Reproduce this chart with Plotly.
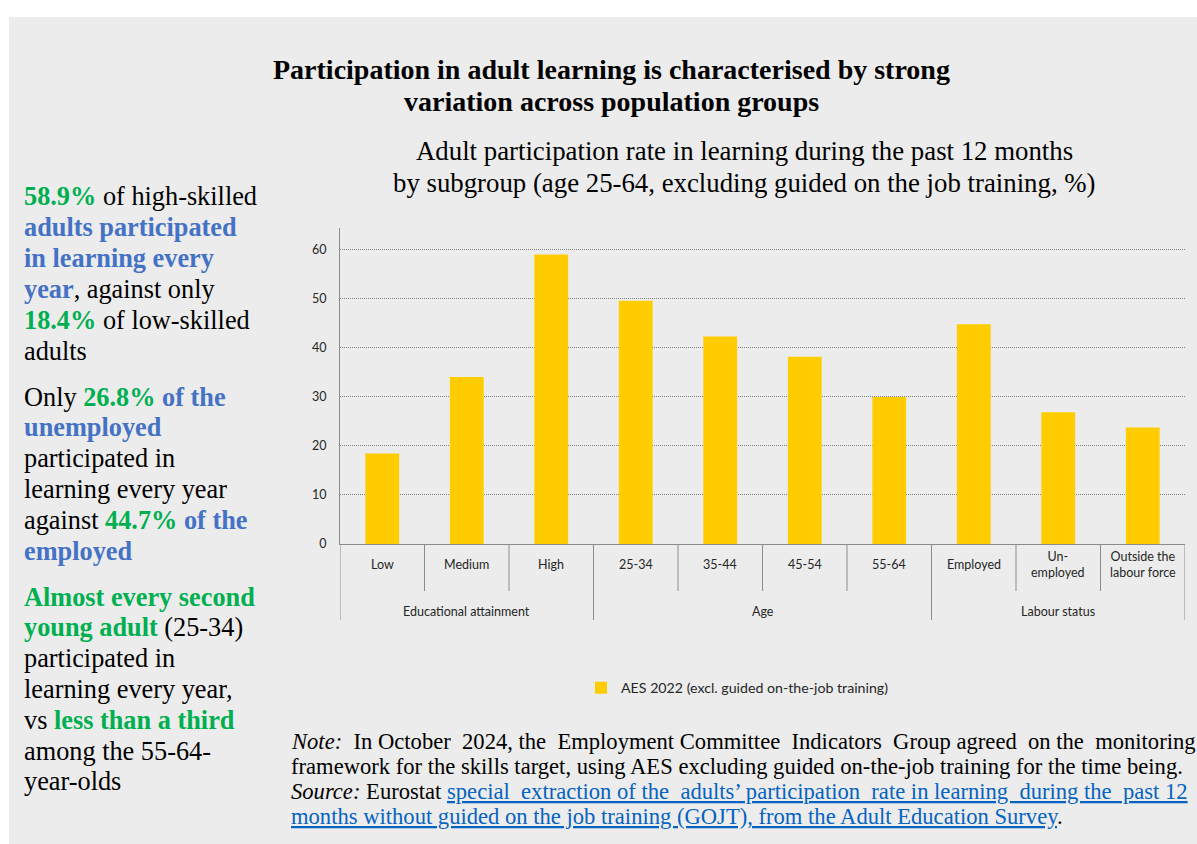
import plotly.graph_objects as go

# data
group_names = ["Educational attainment", "Age", "Labour status"]
group_sizes = [3, 4, 3]
categories = ["Low", "Medium", "High", "25-34", "35-44", "45-54", "55-64",
              "Employed", "Un-<br>employed", "Outside the<br>labour force"]
values = [18.4, 34.0, 58.9, 49.5, 42.2, 38.1, 29.9, 44.7, 26.8, 23.7]
series_name = "AES 2022 (excl. guided on-the-job training)"
y_ticks = [0, 10, 20, 30, 40, 50, 60]

title_lines = ["Participation in adult learning is characterised by strong",
               "variation across population groups"]
subtitle_lines = ["Adult participation rate in learning during the past 12 months",
                  "by subgroup (age 25-64, excluding guided on the job training, %)"]

GREEN = "#00B050"
BLUE = "#4472C4"
LINK = "#0563C1"
GRID = "#8c8c8c"
SERIF = "Liberation Serif, Times New Roman, serif"
SANS = "Lato, Calibri, sans-serif"
S = "\u00a0 "  # wider gap to fake the justified note text


def g(t):
    return f"<b><span style='color:{GREEN}'>{t}</span></b>"


def b(t):
    return f"<b><span style='color:{BLUE}'>{t}</span></b>"


def link(t):
    return f"<span style='color:{LINK};text-decoration:underline'>{t}</span>"


paragraphs = [
    [g("58.9%") + " of high-skilled", b("adults participated"), b("in learning every"),
     b("year") + ", against only", g("18.4%") + " of low-skilled", "adults"],
    ["Only " + g("26.8%") + " " + b("of the"), b("unemployed"), "participated in",
     "learning every year", "against " + g("44.7%") + " " + b("of the"), b("employed")],
    [g("Almost every second"), g("young adult") + " (25-34)", "participated in",
     "learning every year,", "vs " + g("less than a third"), "among the 55-64-", "year-olds"],
]

note_lines = [
    f"<i>Note:</i>{S}In October{S}2024, the{S}Employment Committee{S}Indicators{S}Group agreed{S}on the{S}monitoring",
    "framework for the skills target, using AES excluding guided on-the-job training for the time being.",
    "<i>Source:</i> Eurostat " + link(f"special{S}extraction of the{S}adults’ participation{S}rate in learning{S}during the{S}past 12"),
    link("months without guided on the job training (GOJT), from the Adult Education Survey") + ".",
]

# page geometry (pixels)
W, H = 1197, 844
L, R, T, B = 340, 1185, 228, 544


def px(x):
    return (x - L) / (R - L)


def py(y):
    return (B - y) / (B - T)


x_pos = list(range(len(categories)))

fig = go.Figure()
fig.add_trace(go.Bar(x=x_pos, y=values, name=series_name, marker_color="#FFCC00",
                     marker_line_width=0, width=0.4, showlegend=True))

# grey panel behind everything
fig.add_shape(type="rect", xref="paper", yref="paper", x0=px(9), x1=px(1197), y0=py(844), y1=py(17),
              fillcolor="#ECECEC", line_width=0, layer="below")

# titles
for i, t in enumerate(title_lines):
    fig.add_annotation(text=f"<b>{t}</b>", xref="paper", yref="paper", x=px(611), y=py(69 + 32 * i),
                       xanchor="center", yanchor="middle", showarrow=False,
                       font=dict(family=SERIF, size=28, color="black"))
for i, t in enumerate(subtitle_lines):
    fig.add_annotation(text=t, xref="paper", yref="paper", x=px(744), y=py(151 + 32 * i),
                       xanchor="center", yanchor="middle", showarrow=False,
                       font=dict(family=SERIF, size=26.8, color="black"))

# left hand commentary
for start, lines in zip([197, 397, 597], paragraphs):
    for i, t in enumerate(lines):
        fig.add_annotation(text=t, xref="paper", yref="paper", x=px(22), y=py(start + 30.8 * i),
                           xanchor="left", yanchor="middle", showarrow=False,
                           font=dict(family=SERIF, size=26.3, color="black"))

# note / source
for i, t in enumerate(note_lines):
    fig.add_annotation(text=t, xref="paper", yref="paper", x=px(289), y=py(741 + 25 * i),
                       xanchor="left", yanchor="middle", showarrow=False,
                       font=dict(family=SERIF, size=22.6, color="black"))

# category labels and dividers (Excel style two-level axis)
for i, c in enumerate(categories):
    fig.add_annotation(text=c, xref="x", yref="paper", x=i, y=py(564), xanchor="center", yanchor="middle",
                       showarrow=False, font=dict(family=SANS, size=12.5, color="#262626"))
boundaries = [-0.5]
start = 0
for name, n in zip(group_names, group_sizes):
    fig.add_annotation(text=name, xref="x", yref="paper", x=start + (n - 1) / 2, y=py(611),
                       xanchor="center", yanchor="middle", showarrow=False,
                       font=dict(family=SANS, size=12.5, color="#262626"))
    start += n
    boundaries.append(start - 0.5)
for k in range(len(categories) + 1):
    xb = k - 0.5
    low = 620 if xb in boundaries else 591
    fig.add_shape(type="line", xref="x", yref="paper", x0=xb, x1=xb, y0=py(544), y1=py(low),
                  line=dict(color=GRID, width=1))

fig.update_layout(
    width=W, height=H,
    margin=dict(l=L, r=W - R, t=T, b=H - B),
    paper_bgcolor="white", plot_bgcolor="rgba(0,0,0,0)",
    bargap=0.6,
    font=dict(family=SANS, color="#262626"),
    legend=dict(orientation="h", x=px(581), y=py(688), xanchor="left", yanchor="middle",
                bgcolor="rgba(0,0,0,0)", font=dict(family=SANS, size=14.2, color="#262626")),
    xaxis=dict(range=[-0.5, len(categories) - 0.5], showticklabels=False, showgrid=False,
               zeroline=False, showline=True, linecolor=GRID, linewidth=1, ticks=""),
    yaxis=dict(range=[0, 64.3], tickvals=y_ticks, showgrid=True, gridcolor="#808080", griddash="1px,1px",
               gridwidth=1, zeroline=False, showline=True, linecolor=GRID, linewidth=1, ticks="",
               ticklabelstandoff=10, tickfont=dict(family=SANS, size=12.5, color="#262626")),
)

# the page body has a default 8px margin; drop it so the figure sits at the page corner
fig.write_html("out.html", config={"displayModeBar": False},
               post_script="document.body.style.margin='0';")
